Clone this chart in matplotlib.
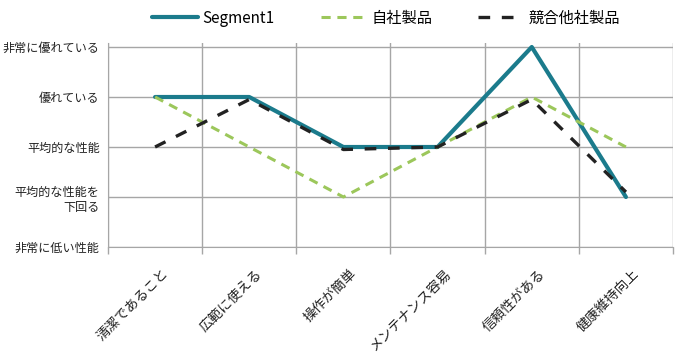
import matplotlib
matplotlib.use("Agg")
import matplotlib.pyplot as plt
import matplotlib.transforms as mtransforms
import numpy as np

plt.rcParams['font.family'] = ['Noto Sans CJK JP', 'DejaVu Sans']

categories = ['清潔であること', '広範に使える', '操作が簡単', 'メンテナンス容易', '信頼性がある', '健康維持向上']
ytick_labels = ['非常に低い性能', '平均的な性能を\n下回る', '平均的な性能', '優れている', '非常に優れている']
ytick_values = [1, 2, 3, 4, 5]
segment1 = [4, 4, 3, 3, 5, 2]
own = [4, 3, 2, 3, 4, 3]
competitor = [3, 3.95, 2.95, 3, 3.95, 2.1]

fig = plt.figure(figsize=(6.93, 3.64), dpi=100)
ax = fig.add_axes([108/693, 1 - 247/364, (673-108)/693, (247-43)/364])

x = np.arange(len(categories))
ax.plot(x, segment1, color='#1b7b8c', lw=3.0, solid_capstyle='round', label='Segment1', zorder=3)
ax.plot(x, own, color='#9cc75b', lw=2.2, dashes=(3, 2.2), label='自社製品', zorder=4)
ax.plot(x, competitor, color='#222222', lw=2.4, dashes=(3.5, 3.5), label='競合他社製品', zorder=5)

ax.set_xlim(-0.5, len(categories) - 0.5)
ax.set_ylim(1, 5.08)
ax.set_yticks(ytick_values)
ax.set_yticklabels(ytick_labels, fontsize=8.7, color='#222222', ha='right', multialignment='right')
ax.tick_params(axis='y', length=0, pad=6)

ax.set_xticks(x)
ax.set_xticklabels(categories, rotation=45, ha='right', rotation_mode='anchor', fontsize=9.8, color='#222222')
ax.tick_params(axis='x', which='major', length=0, pad=14)
offset = mtransforms.ScaledTranslation(6/100, 0, fig.dpi_scale_trans)
for lbl in ax.get_xticklabels():
    lbl.set_transform(lbl.get_transform() + offset)
ax.set_xticks(np.arange(-0.5, len(categories)), minor=True)
ax.tick_params(axis='x', which='minor', length=5, color='#a6a6a6', width=1)

ax.grid(True, axis='y', which='major', color='#a6a6a6', lw=1)
ax.grid(True, axis='x', which='minor', color='#a6a6a6', lw=1)
ax.grid(False, axis='x', which='major')
for s in ['top', 'right']:
    ax.spines[s].set_visible(False)
ax.spines['left'].set_color('#a6a6a6')
ax.spines['bottom'].set_color('#a6a6a6')
ax.set_axisbelow(True)

fig.legend(loc='center', bbox_to_anchor=(0.557, 0.95), ncol=3, frameon=False, fontsize=11,
           handlelength=3.0, columnspacing=3.0, handletextpad=0.3)

fig.savefig('out.png', dpi=100)
